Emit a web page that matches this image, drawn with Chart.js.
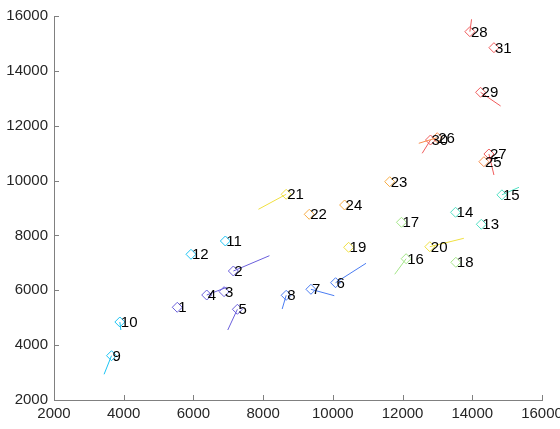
<!DOCTYPE html>
<html>
<head>
<meta charset="utf-8">
<script src="https://cdn.jsdelivr.net/npm/chart.js@4/dist/chart.umd.min.js"></script>
<style>
  html, body { margin: 0; padding: 0; background: #fff; }
  #wrap { width: 560px; height: 429px; }
</style>
</head>
<body>
<div id="wrap"><canvas id="chart"></canvas></div>
<script>
// point positions (label = index + 1)
const xs = [5536, 7146, 6879, 6381, 7261, 10078, 9371, 8661, 3650, 3889, 6916, 5930, 14259, 13520, 14850, 12102, 11968, 13528, 10452, 12781, 8661, 9322, 11631, 10337, 14333, 12994, 14477, 13931, 14238, 12801, 14621];
const ys = [5380, 6703, 5949, 5828, 5307, 6277, 6036, 5817, 3615, 4844, 7797, 7312, 8406, 8844, 9480, 7152, 8479, 7020, 7567, 7589, 9500, 8770, 9959, 9109, 10688, 11563, 10969, 15428, 13218, 11479, 14845];

// end points of the little segments drawn from some points (null = none)
const endX = [null, 8181, null, 6956, 6985, 10952, 10041, 8546, 3437, 3918, null, null, null, null, 15340, 11775, null, null, null, 13758, 7865, null, null, null, null, 12465, 14621, 13979, 14813, 12563, null];
const endY = [null, 7261, null, 6109, 4552, 6984, 5803, 5318, 2937, 4552, null, null, null, null, 9755, 6583, null, null, null, 7895, 8953, null, null, null, null, 11359, 10203, 15880, 12719, 10994, null];

const tickValues = [2000, 4000, 6000, 8000, 10000, 12000, 14000, 16000];

// colour by point index
function colorFor(i) {
  const n = i + 1;
  if (n <= 5) return "#6a5fdc";
  if (n <= 8) return "#4a7cf2";
  if (n <= 12) return "#1cc4f4";
  if (n <= 15) return "#52e0c4";
  if (n <= 18) return "#a4e688";
  if (n <= 21) return "#f0e040";
  if (n <= 24) return "#f8ac44";
  if (n <= 26) return "#f88c4c";
  return "#f05c5c";
}

const points = xs.map((x, i) => ({ x: x, y: ys[i] }));

const datasets = [];
endX.forEach((ex, i) => {
  if (ex === null) return;
  datasets.push({
    type: "line",
    data: [{ x: xs[i], y: ys[i] }, { x: ex, y: endY[i] }],
    borderColor: colorFor(i),
    borderWidth: 1,
    pointRadius: 0,
    fill: false,
  });
});
datasets.push({
  type: "scatter",
  data: points,
  pointStyle: "rectRot",
  pointRadius: 5,
  pointBorderWidth: 1,
  pointBackgroundColor: "rgba(0,0,0,0)",
  pointBorderColor: xs.map((_, i) => colorFor(i)),
});

// number labels next to each marker, plus inward tick marks
const labelPlugin = {
  id: "labels",
  afterDatasetsDraw(chart) {
    const ctx = chart.ctx;
    const sx = chart.scales.x, sy = chart.scales.y;
    ctx.save();
    ctx.font = "15px 'Liberation Sans', Arial, sans-serif";
    ctx.fillStyle = "#000";
    ctx.textAlign = "left";
    ctx.textBaseline = "middle";
    xs.forEach((x, i) => {
      ctx.fillText(String(i + 1), sx.getPixelForValue(x) + 1, sy.getPixelForValue(ys[i]) + 1);
    });
    ctx.strokeStyle = "#808080";
    ctx.lineWidth = 1;
    const left = chart.chartArea.left, bottom = chart.chartArea.bottom;
    tickValues.forEach((v) => {
      const px = Math.round(sx.getPixelForValue(v)) + 0.5;
      ctx.beginPath();
      ctx.moveTo(px, bottom);
      ctx.lineTo(px, bottom - 5);
      ctx.stroke();
      const py = Math.round(sy.getPixelForValue(v)) + 0.5;
      ctx.beginPath();
      ctx.moveTo(left, py);
      ctx.lineTo(left + 5, py);
      ctx.stroke();
    });
    ctx.restore();
  },
};

const tickFont = { family: "'Liberation Sans', Arial, sans-serif", size: 15 };

new Chart(document.getElementById("chart"), {
  type: "scatter",
  data: { datasets: datasets },
  plugins: [labelPlugin],
  options: {
    responsive: true,
    maintainAspectRatio: false,
    animation: false,
    layout: { padding: { top: 16, right: 18, left: 0, bottom: 0 } },
    plugins: { legend: { display: false }, tooltip: { enabled: false } },
    scales: {
      x: {
        type: "linear",
        min: 2000,
        max: 16000,
        afterBuildTicks: (s) => { s.ticks = tickValues.map((v) => ({ value: v })); },
        afterFit: (s) => { s.height = 29; s.paddingLeft = 0; s.paddingRight = 0; },
        grid: { display: false, drawTicks: false },
        border: { display: true, color: "#808080", width: 1 },
        ticks: { color: "#262626", font: tickFont, padding: 5, maxRotation: 0, autoSkip: false, callback: (v) => String(v) },
      },
      y: {
        type: "linear",
        min: 2000,
        max: 16000,
        afterBuildTicks: (s) => { s.ticks = tickValues.map((v) => ({ value: v })); },
        afterFit: (s) => { s.width = 54; s.paddingTop = 0; s.paddingBottom = 0; },
        grid: { display: false, drawTicks: false },
        border: { display: true, color: "#808080", width: 1 },
        ticks: { color: "#262626", font: tickFont, padding: 6, autoSkip: false, callback: (v) => String(v) },
      },
    },
  },
});
</script>
</body>
</html>
